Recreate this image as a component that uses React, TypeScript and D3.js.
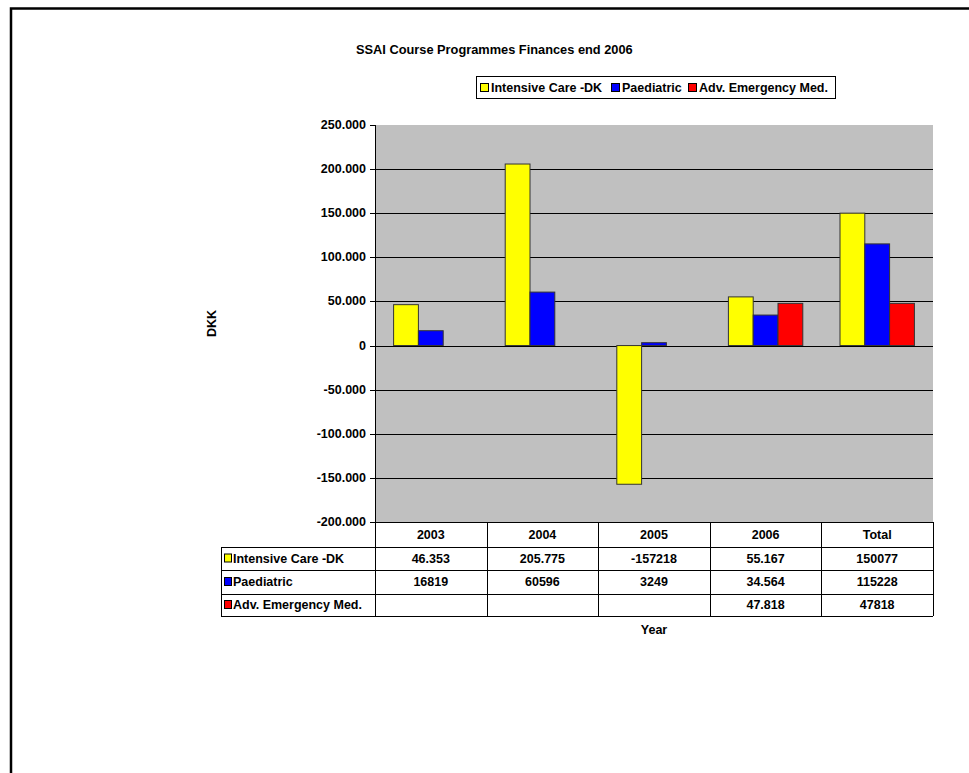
import React from 'react';
import * as d3 from 'd3';

const years = ['2003', '2004', '2005', '2006', 'Total'];
const seriesNames = ['Intensive Care -DK', 'Paediatric', 'Adv. Emergency Med.'];
const seriesColors = ['#FFFF00', '#0000FF', '#FF0000'];

const intensiveCare = [46353, 205775, -157218, 55167, 150077];
const paediatric = [16819, 60596, 3249, 34564, 115228];
const advEmergency = [null, null, null, 47818, 47818];

// the table prints the cells as they were typed in the sheet
const intensiveCareLabels = ['46.353', '205.775', '-157218', '55.167', '150077'];
const paediatricLabels = ['16819', '60596', '3249', '34.564', '115228'];
const advEmergencyLabels = ['', '', '', '47.818', '47818'];

const yTicks = [250000, 200000, 150000, 100000, 50000, 0, -50000, -100000, -150000, -200000];

const W = 969;
const H = 773;
const plot = { left: 375, right: 933, top: 125, bottom: 522 };
const tableLeft = 221;
const rowBottoms = [547, 570, 594, 616];
const font = '"Liberation Sans", Arial, sans-serif';

const danish = d3.formatLocale({ decimal: ',', thousands: '.', grouping: [3], currency: ['', ''], minus: '-' });
const fmt = danish.format(',');

export default function App() {
  const values = [intensiveCare, paediatric, advEmergency];
  const labels = [intensiveCareLabels, paediatricLabels, advEmergencyLabels];

  const y = d3.scaleLinear().domain([-200000, 250000]).range([plot.bottom, plot.top]);
  const xCat = d3.scaleBand<string>().domain(years).range([plot.left, plot.right]).padding(0);
  const step = xCat.bandwidth();
  const xSer = d3.scaleBand<string>().domain(seriesNames).range([step / 6, (5 * step) / 6]);

  const legendItems = [
    { x: 480, tx: 491 },
    { x: 611, tx: 622 },
    { x: 688, tx: 699 },
  ];

  return (
    <svg width={W} height={H} style={{ position: 'absolute', left: 0, top: 0, background: '#fff' }}
      fontFamily={font} fontWeight="bold" fontSize={12.5}>
      <rect x={11} y={8.5} width={1000} height={800} fill="#fff" stroke="#000" strokeWidth={2.5} />

      <text x={356} y={54} fontSize={12.8}>SSAI Course Programmes Finances end 2006</text>

      {/* legend */}
      <rect x={476.5} y={76.5} width={359} height={22} fill="#fff" stroke="#000" strokeWidth={1} />
      {seriesNames.map((s, i) => (
        <g key={s}>
          <rect x={legendItems[i].x + 0.5} y={83.5} width={8} height={8} fill={seriesColors[i]} stroke="#000" strokeWidth={1} />
          <text x={legendItems[i].tx} y={92}>{s}</text>
        </g>
      ))}

      {/* plot area */}
      <rect x={plot.left} y={plot.top} width={plot.right - plot.left} height={plot.bottom - plot.top} fill="#C0C0C0" />
      {yTicks.filter(t => t !== 250000 && t !== -200000).map(t => (
        <line key={t} x1={plot.left} x2={plot.right} y1={Math.round(y(t)) + 0.5} y2={Math.round(y(t)) + 0.5}
          stroke="#000" strokeWidth={1} />
      ))}

      {values.map((vals, si) =>
        vals.map((v, ci) => {
          if (v === null) return null;
          const x0 = (xCat(years[ci]) as number) + (xSer(seriesNames[si]) as number);
          const y0 = Math.min(y(v), y(0));
          const h = Math.abs(y(v) - y(0));
          return (
            <rect key={`${si}-${ci}`} x={x0} y={y0} width={xSer.bandwidth()} height={h}
              fill={seriesColors[si]} stroke="#333" strokeWidth={1} />
          );
        })
      )}

      {/* y axis */}
      <line x1={plot.left + 0.5} x2={plot.left + 0.5} y1={plot.top} y2={rowBottoms[3]} stroke="#000" />
      {yTicks.map(t => (
        <g key={t}>
          <line x1={plot.left - 5} x2={plot.left} y1={Math.round(y(t)) + 0.5} y2={Math.round(y(t)) + 0.5} stroke="#000" />
          <text x={plot.left - 9} y={y(t) + 4} textAnchor="end">{fmt(t)}</text>
        </g>
      ))}

      <text transform={`translate(216,${(plot.top + plot.bottom) / 2}) rotate(-90)`} textAnchor="middle">DKK</text>

      {/* data table */}
      <line x1={plot.left} x2={plot.right} y1={plot.bottom + 0.5} y2={plot.bottom + 0.5} stroke="#000" />
      {rowBottoms.map(rb => (
        <line key={rb} x1={tableLeft} x2={plot.right} y1={rb + 0.5} y2={rb + 0.5} stroke="#000" />
      ))}
      <line x1={tableLeft + 0.5} x2={tableLeft + 0.5} y1={rowBottoms[0]} y2={rowBottoms[3]} stroke="#000" />
      {years.map(c => (
        <line key={c} x1={Math.round((xCat(c) as number) + step) + 0.5} x2={Math.round((xCat(c) as number) + step) + 0.5}
          y1={plot.bottom} y2={rowBottoms[3]} stroke="#000" />
      ))}
      {years.map(c => (
        <text key={c} x={(xCat(c) as number) + step / 2} y={plot.bottom + 17} textAnchor="middle">{c}</text>
      ))}
      {seriesNames.map((s, si) => {
        const top = rowBottoms[si];
        const mid = (top + rowBottoms[si + 1]) / 2;
        return (
          <g key={s}>
            <rect x={224.5} y={mid - 4.5} width={7} height={8} fill={seriesColors[si]} stroke="#000" strokeWidth={1} />
            <text x={233} y={mid + 4}>{s}</text>
            {labels[si].map((l, ci) => (
              <text key={ci} x={(xCat(years[ci]) as number) + step / 2} y={mid + 4} textAnchor="middle">{l}</text>
            ))}
          </g>
        );
      })}

      <text x={(plot.left + plot.right) / 2} y={634} textAnchor="middle">Year</text>
    </svg>
  );
}
